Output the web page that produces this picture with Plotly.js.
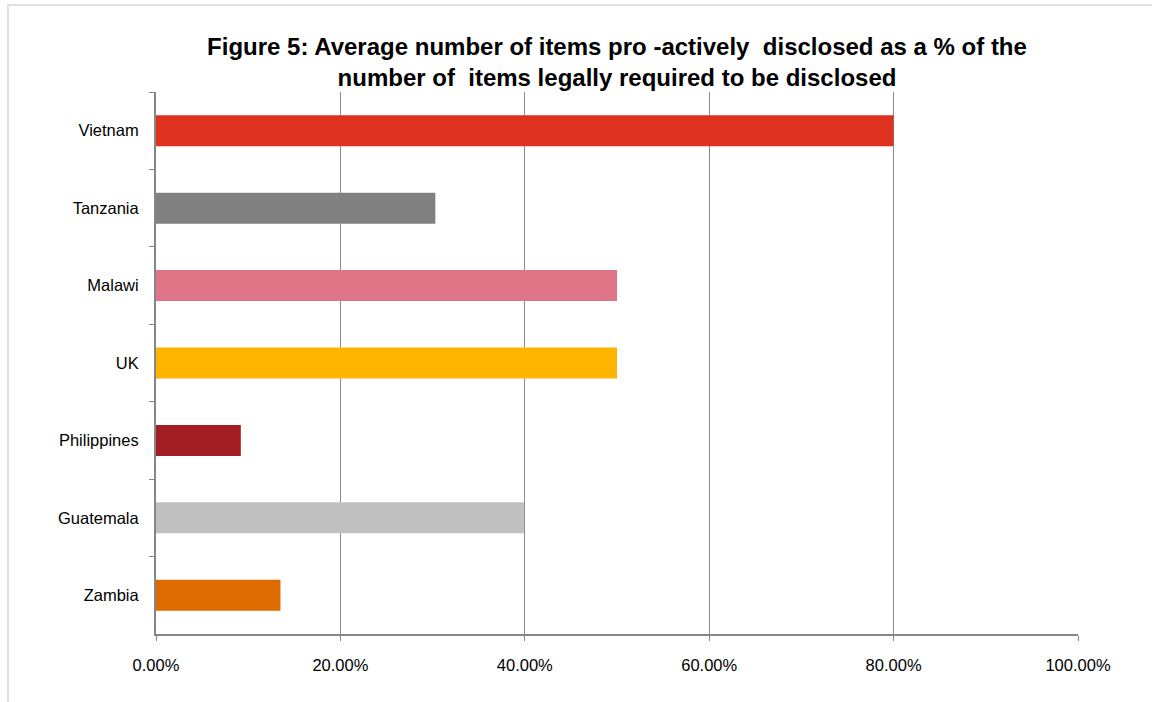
<!DOCTYPE html>
<html>
<head>
<meta charset="utf-8">
<script src="https://cdn.plot.ly/plotly-3.0.1.min.js"></script>
<style>html,body{margin:0;padding:0;background:#fff;}#chart{width:1152px;height:702px;}</style>
</head>
<body>
<div id="chart"></div>
<script>
const countries = ["Vietnam", "Tanzania", "Malawi", "UK", "Philippines", "Guatemala", "Zambia"];
const values = [0.80, 0.303, 0.50, 0.50, 0.092, 0.399, 0.135];
const barColors = ["#DE3120", "#808080", "#E07587", "#FFB400", "#A31E22", "#C0C0C0", "#DD6B00"];
const xTicks = [0, 0.2, 0.4, 0.6, 0.8, 1.0];
const xTickLabels = ["0.00%", "20.00%", "40.00%", "60.00%", "80.00%", "100.00%"];

const trace = {
  type: "bar",
  orientation: "h",
  y: countries,
  x: values,
  marker: {color: barColors},
  hoverinfo: "x+y"
};

const L = 156, R = 74, T = 92, B = 68;
const pw = 1152 - L - R, ph = 702 - T - B;
function px2x(p){ return (p - L) / pw; }
function px2y(p){ return (702 - B - p) / ph; }

const layout = {
  width: 1152, height: 702,
  margin: {l: L, r: R, t: T, b: B, pad: 0},
  paper_bgcolor: "#ffffff",
  plot_bgcolor: "#ffffff",
  font: {family: "Liberation Sans, Arial, sans-serif", color: "#000000", size: 16.5},
  title: {
    text: "Figure 5: Average number of items pro -actively  disclosed as a % of the<br>number of  items legally required to be disclosed",
    font: {family: "Liberation Sans, Arial, sans-serif", size: 24, color: "#000000", weight: "bold"},
    x: 0.5, xref: "paper", xanchor: "center",
    y: 1, yref: "paper", yanchor: "bottom", pad: {t: 0, b: 37}
  },
  bargap: 0.6,
  showlegend: false,
  xaxis: {
    range: [0, 1],
    tickvals: xTicks,
    ticktext: xTickLabels,
    showgrid: true,
    gridcolor: "#8C8C8C",
    gridwidth: 1,
    showline: true,
    linecolor: "#868686",
    linewidth: 2,
    ticks: "outside",
    ticklen: 5,
    tickcolor: "#868686",
    tickwidth: 1,
    ticklabelstandoff: 10,
    zeroline: false,
    fixedrange: true
  },
  yaxis: {
    type: "category",
    autorange: "reversed",
    showgrid: false,
    showline: true,
    linecolor: "#868686",
    linewidth: 2,
    ticks: "outside",
    tickson: "boundaries",
    ticklen: 5,
    tickcolor: "#868686",
    tickwidth: 1,
    ticklabelstandoff: 12,
    zeroline: false,
    fixedrange: true
  },
  shapes: [{
    type: "rect", xref: "paper", yref: "paper",
    x0: px2x(8), x1: px2x(1170), y0: px2y(720), y1: px2y(5),
    line: {color: "#D9D9D9", width: 1.5}, fillcolor: "rgba(0,0,0,0)", layer: "below"
  }]
};

Plotly.newPlot("chart", [trace], layout, {displayModeBar: false, staticPlot: true});
</script>
</body>
</html>
